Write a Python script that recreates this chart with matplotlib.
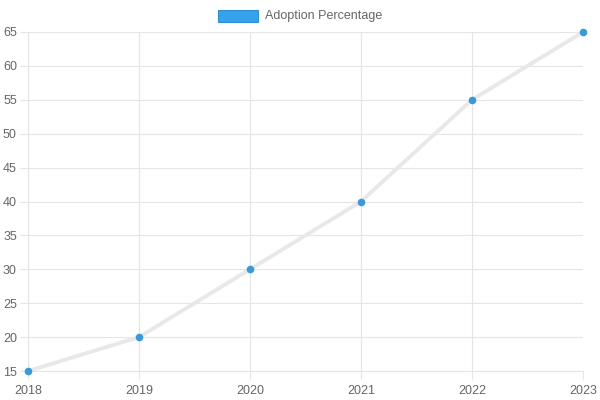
import matplotlib.pyplot as plt
from matplotlib.patches import Rectangle

years = ['2018', '2019', '2020', '2021', '2022', '2023']
adoption = [15, 20, 30, 40, 55, 65]
y_ticks = list(range(15, 70, 5))

plt.rcParams['font.family'] = ['Liberation Sans', 'DejaVu Sans']

fig = plt.figure(figsize=(6, 4), dpi=100)
ax = fig.add_axes([28 / 600, 29 / 400, 555 / 600, 339 / 400])

x = list(range(len(years)))
ax.plot(x, adoption, color='#e8e8e8', lw=2.8, solid_capstyle='round', zorder=2, clip_on=False)
ax.scatter(x, adoption, s=20, color='#3a9ad9', edgecolors='#3a9ad9', zorder=3, clip_on=False)

ax.set_xlim(0, len(years) - 1)
ax.set_ylim(15, 65)
ax.set_xticks(x)
ax.set_xticklabels(years)
ax.set_yticks(y_ticks)
ax.grid(True, color='#e5e5e5', lw=0.8)
ax.set_axisbelow(True)
ax.tick_params(colors='#e5e5e5', labelcolor='#666666', labelsize=9, length=6, width=0.8)
for s in ax.spines.values():
    s.set_color('#e5e5e5')
    s.set_linewidth(0.8)
ax.spines['top'].set_visible(False)
ax.spines['right'].set_visible(False)
ax.tick_params(axis='x', pad=4)
ax.tick_params(axis='y', pad=2)

# legend like Chart.js
fig.patches.append(Rectangle((218 / 600, 1 - 22 / 400), 40 / 600, 12 / 400,
                             transform=fig.transFigure, facecolor='#36a2eb',
                             edgecolor='#2f8fd0', lw=0.8))
fig.text(265 / 600, 1 - 16 / 400, 'Adoption Percentage', color='#666666',
         fontsize=9, va='center', ha='left')

fig.savefig('out.png', dpi=100)
